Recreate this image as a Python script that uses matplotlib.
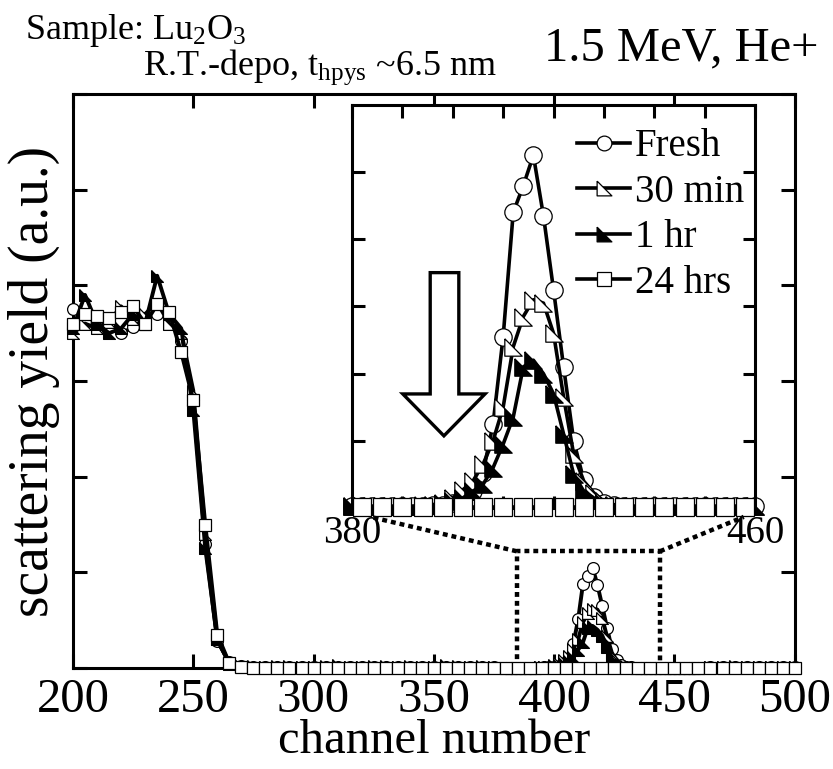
import numpy as np
import matplotlib.pyplot as plt
from matplotlib.patches import Polygon, ConnectionPatch

plt.rcParams['font.family'] = ['Liberation Serif', 'DejaVu Serif']
plt.rcParams['mathtext.fontset'] = 'custom'
plt.rcParams['mathtext.rm'] = 'Liberation Serif'
plt.rcParams['mathtext.it'] = 'Liberation Serif:italic'

# main spectrum, every 5 channels (the zoomed window 380-460 comes from the inset data)
main_ch = list(range(200, 380, 5)) + list(range(465, 505, 5))

fresh_main = [3.75, 3.62, 3.55, 3.62, 3.50, 3.56, 3.66, 3.70, 3.66, 3.42,
              2.80, 1.30, 0.28, 0.06, 0.02,
              0.01, 0.01, 0.01, 0.01, 0.01, 0.01, 0.01, 0.01, 0.01, 0.01, 0.01,
              0.01, 0.01, 0.01, 0.01, 0.01, 0.01, 0.01, 0.01, 0.01, 0.01,
              0.01, 0.01, 0.01, 0.01, 0.01, 0.01, 0.01, 0.01]
min30_main = [3.50, 3.60, 3.55, 3.62, 3.78, 3.65, 3.70, 3.82, 3.60, 3.50,
              2.90, 1.40, 0.30, 0.05, 0.02,
              0.01, 0.01, 0.02, 0.01, 0.01, 0.01, 0.02, 0.01, 0.01, 0.01, 0.01,
              0.02, 0.01, 0.01, 0.01, 0.01, 0.01, 0.02, 0.01, 0.01, 0.01,
              0.01, 0.01, 0.01, 0.01, 0.01, 0.01, 0.01, 0.01]
hr1_main = [3.55, 3.90, 3.60, 3.50, 3.55, 3.70, 3.60, 4.10, 3.70, 3.55,
            2.70, 1.25, 0.30, 0.04, 0.02,
            0.02, 0.01, 0.01, 0.02, 0.01, 0.01, 0.01, 0.03, 0.01, 0.01, 0.02,
            0.01, 0.01, 0.02, 0.01, 0.01, 0.03, 0.01, 0.01, 0.02, 0.01,
            0.01, 0.01, 0.02, 0.01, 0.01, 0.01, 0.01, 0.01]
hrs24_main = [3.60, 3.70, 3.68, 3.66, 3.72, 3.78, 3.60, 3.80, 3.72, 3.30,
              2.80, 1.50, 0.35, 0.05, 0.01,
              0.005, 0.005, 0.005, 0.005, 0.005, 0.005, 0.005, 0.005, 0.005, 0.005, 0.005,
              0.005, 0.005, 0.005, 0.005, 0.005, 0.005, 0.005, 0.005, 0.005, 0.005,
              0.005, 0.005, 0.005, 0.005, 0.005, 0.005, 0.005, 0.005]
# 24 hrs shows no peak: in the main panel its window is kept on the 5-channel grid
win5_ch = list(range(380, 465, 5))
hrs24_win5 = [0.005] * 17

# zoomed window 380-460, every 2 channels
ins_ch = list(range(380, 462, 2))
fresh_ins = [0.005, 0.005, 0.005, 0.005, 0.005, 0.005, 0.005, 0.005, 0.008, 0.010,
             0.015, 0.025, 0.050, 0.105, 0.250, 0.510, 0.880, 0.960, 1.050, 0.870,
             0.650, 0.420, 0.200, 0.083, 0.034, 0.015,
             0.008, 0.005, 0.005, 0.005, 0.005, 0.005, 0.005, 0.005, 0.005, 0.005,
             0.005, 0.005, 0.005, 0.005, 0.005]
min30_ins = [0.005, 0.005, 0.005, 0.005, 0.005, 0.005, 0.005, 0.008, 0.010, 0.015,
             0.030, 0.054, 0.080, 0.130, 0.200, 0.300, 0.480, 0.570, 0.620, 0.610,
             0.520, 0.330, 0.160, 0.080, 0.045, 0.020,
             0.010, 0.005, 0.005, 0.005, 0.005, 0.005, 0.005, 0.005, 0.005, 0.005,
             0.005, 0.005, 0.005, 0.005, 0.005]
hr1_ins = [0.005, 0.005, 0.005, 0.005, 0.005, 0.005, 0.005, 0.006, 0.008, 0.012,
           0.020, 0.030, 0.050, 0.070, 0.120, 0.190, 0.270, 0.420, 0.440, 0.400,
           0.340, 0.220, 0.100, 0.050, 0.030, 0.015,
           0.008, 0.005, 0.005, 0.005, 0.005, 0.005, 0.005, 0.005, 0.005, 0.005,
           0.005, 0.005, 0.005, 0.005, 0.005]
hrs24_ins = [0.004] * 41

labels = ['Fresh', '30 min', '1 hr', '24 hrs']
tri = [(-1, 1), (-1, -1), (1, -1), (-1, 1)]
styles = [dict(marker='o', mfc='white'),
          dict(marker=tri, mfc='white'),
          dict(marker=tri, mfc='black'),
          dict(marker='s', mfc='white')]
main_sets = [fresh_main, min30_main, hr1_main, hrs24_main]
ins_sets = [fresh_ins, min30_ins, hr1_ins, hrs24_ins]

fig = plt.figure(figsize=(8.33, 7.69), dpi=100)
ax = fig.add_axes([0.0876, 0.1313, 0.8664, 0.7465])

for k in range(4):
    if k == 3:
        pts = sorted(zip(main_ch + win5_ch, hrs24_main + hrs24_win5))
    else:
        pts = sorted(zip(main_ch + ins_ch, main_sets[k] + ins_sets[k]))
    ch = [p[0] for p in pts]
    val = [p[1] for p in pts]
    ax.plot(ch, val, color='black', lw=2.8, ms=8.5, mec='black', mew=0.9,
            clip_on=False, zorder=10 + k, **styles[k])

ax.set_xlim(200, 500)
ax.set_ylim(0, 6)
ax.set_xticks(range(200, 501, 50))
ax.set_yticks(range(0, 7))
ax.set_yticklabels([])
ax.tick_params(direction='in', length=10, width=2.2, top=True, right=True,
               labelsize=35, pad=7)
for s in ax.spines.values():
    s.set_linewidth(2.2)
ax.set_xlabel('channel number', fontsize=35, labelpad=-2)
ax.set_ylabel('scattering yield (a.u.)', fontsize=40, labelpad=2)

# dotted zoom box
zx0, zx1, zy = 384.5, 444, 1.22
ax.plot([zx0, zx0, zx1, zx1], [0, zy, zy, 0], color='black', lw=3.2,
        linestyle=(0, (1.1, 0.9)), dash_capstyle='butt', zorder=1)

ins = fig.add_axes([0.4226, 0.3394, 0.4838, 0.5241])
ins.set_zorder(5)
ins.set_facecolor('white')
for k in range(4):
    every = (1, 2) if k == 3 else 1
    ins.plot(ins_ch, ins_sets[k], color='black', lw=2.6, ms=12.5, mec='black', mew=0.9,
             markevery=every, label=labels[k], clip_on=False, zorder=2 + k, **styles[k])
ins.set_xlim(380, 460)
ins.set_ylim(0, 1.2)
ins.set_xticks(range(380, 461, 10))
ins.set_xticklabels(['380', '', '', '', '', '', '', '', '460'])
ins.set_yticks([0.2, 0.4, 0.6, 0.8, 1.0])
ins.set_yticklabels([])
ins.tick_params(direction='in', length=9, width=2.2, top=True, right=True,
                labelsize=28, pad=5)
for s in ins.spines.values():
    s.set_linewidth(2.2)

leg = ins.legend(loc='upper right', bbox_to_anchor=(1.03, 1.0), frameon=False,
                 fontsize=28, handlelength=1.35, handletextpad=0.12,
                 labelspacing=0.22, borderaxespad=0.2, markerscale=0.85)

# hollow arrow
arrow = Polygon([(0.194, 0.584), (0.265, 0.584), (0.265, 0.283), (0.330, 0.283),
                 (0.228, 0.179), (0.126, 0.283), (0.194, 0.283)], closed=True,
                transform=ins.transAxes, facecolor='white', edgecolor='black',
                lw=2.4, zorder=10)
ins.add_patch(arrow)

for xa, xb in [(zx0, 0.045), (zx1, 0.972)]:
    con = ConnectionPatch(xyA=(xa, zy), coordsA=ax.transData,
                          xyB=(xb, -0.022), coordsB=ins.transAxes, color='black',
                          lw=3.2, linestyle=(0, (1.1, 0.9)), capstyle='butt', zorder=8)
    fig.add_artist(con)

fig.text(0.030, 0.984, 'Sample: Lu$_2$O$_3$', fontsize=26, va='top', ha='left')
fig.text(0.172, 0.902, 'R.T.-depo, t$_{\\rm hpys}$ ~6.5 nm', fontsize=26, va='baseline', ha='left')
fig.text(0.983, 0.921, '1.5 MeV, He+', fontsize=35, va='baseline', ha='right')

fig.savefig('out.png', dpi=100)
